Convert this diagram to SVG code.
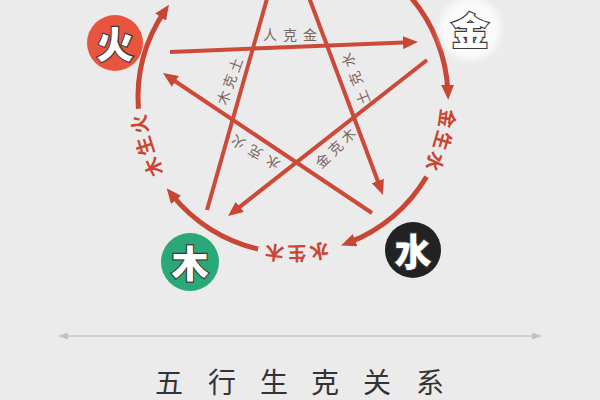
<svg xmlns="http://www.w3.org/2000/svg" width="600" height="400" viewBox="0 0 600 400">
<style>
.arc{fill:none;stroke:#c94634;stroke-width:5;marker-end:url(#ah)}
.ln{fill:none;stroke:#cc4a39;stroke-width:4}
.lbl{font-family:"Noto Sans CJK SC",sans-serif;font-size:19px;font-weight:700;fill:#c94634;letter-spacing:2.5px}
.in{font-family:"Noto Sans CJK SC",sans-serif;font-size:14px;fill:#7a6660;text-anchor:middle;dominant-baseline:central}
.nt{font-family:"Noto Sans CJK SC",sans-serif;font-size:37px;font-weight:900;fill:#ffffff;stroke:#3a3a3a;stroke-width:2.4;paint-order:stroke;text-anchor:middle;dominant-baseline:central}
.title{font-family:"Noto Sans CJK SC",sans-serif;font-size:28px;font-weight:400;fill:#333333;text-anchor:middle}
</style>
<defs>
<marker id="ah" markerUnits="userSpaceOnUse" viewBox="0 0 15 13" markerWidth="15" markerHeight="13" refX="7" refY="6.5" orient="auto">
<path d="M0,0 L15,6.5 L0,13 Z" fill="#c94634"/>
</marker>
<marker id="gh" markerUnits="userSpaceOnUse" viewBox="0 0 10 7" markerWidth="10" markerHeight="7" refX="2" refY="3.5" orient="auto-start-reverse">
<path d="M0,0 L10,3.5 L0,7 Z" fill="#c2c2c2"/>
</marker>
<filter id="glow" x="-50%" y="-50%" width="200%" height="200%">
<feGaussianBlur stdDeviation="3"/>
</filter>
<path id="tc" d="M441.5,98 A148.5,148.5 0 1 1 144.5,98 A148.5,148.5 0 1 1 441.5,98"/>
</defs>
<rect width="600" height="400" fill="#ecebeb"/>
<g id="connectors">
<path class="arc" d="M409.1,-4.7 A155,155 0 0 1 447.9,91.8"/>
<path class="arc" d="M426.5,176.7 A155,155 0 0 1 348.6,242.7"/>
<path class="arc" d="M258.1,249 A155,155 0 0 1 171.7,194.5"/>
<path class="arc" d="M138.4,108.8 A155,155 0 0 1 164.5,11.3"/>
<line class="ln" x1="170" y1="52" x2="410" y2="42.3" marker-end="url(#ah)"/>
<line class="ln" x1="207" y1="210" x2="278" y2="-40"/>
<line class="ln" x1="295" y1="-40" x2="380.2" y2="187.5" marker-end="url(#ah)"/>
<line class="ln" x1="427" y1="60" x2="234.3" y2="211.1" marker-end="url(#ah)"/>
<line class="ln" x1="372" y1="213" x2="169.6" y2="77.5" marker-end="url(#ah)"/>
</g>
<g id="cycle-labels">
<text class="lbl"><textPath href="#tc" startOffset="42.5" text-anchor="middle">金生水</textPath></text>
<text class="lbl"><textPath href="#tc" startOffset="230.6" text-anchor="middle">水生木</textPath></text>
<text class="lbl"><textPath href="#tc" startOffset="420.9" text-anchor="middle">木生火</textPath></text>
</g>
<g id="control-labels">
<text class="in" x="270 290 310" y="34">人克金</text>
<text class="in" transform="translate(229,81) rotate(-70)" x="-17.5 0 17.5" y="0">木克土</text>
<text class="in" transform="translate(355,79) rotate(-111.5)" x="-20 0 20" y="0">土克水</text>
<text class="in" transform="translate(255,153) rotate(-150)" x="-20 0 20" y="0">水克火</text>
<text class="in" transform="translate(335,147.5) rotate(-44)" x="-18 0 18" y="0">金克木</text>
</g>
<g id="node-huo">
<circle cx="115" cy="43" r="28" fill="#e9543f"/>
<text class="nt" x="115" y="43">火</text>
</g>
<g id="node-jin">
<circle cx="470" cy="29" r="31" fill="#fafafa" filter="url(#glow)"/>
<text class="nt" x="470" y="29">金</text>
</g>
<g id="node-shui">
<circle cx="413" cy="250" r="28" fill="#222222"/>
<text class="nt" x="413" y="250">水</text>
</g>
<g id="node-mu">
<circle cx="190" cy="262" r="29" fill="#2ba877"/>
<text class="nt" x="190" y="262">木</text>
</g>
<g id="footer">
<line x1="66" y1="336" x2="534" y2="336" stroke="#c8c8c8" stroke-width="1.5" marker-start="url(#gh)" marker-end="url(#gh)"/>
<text class="title" x="169 222 274 325 377 430" y="393">五行生克关系</text>
</g>
</svg>
